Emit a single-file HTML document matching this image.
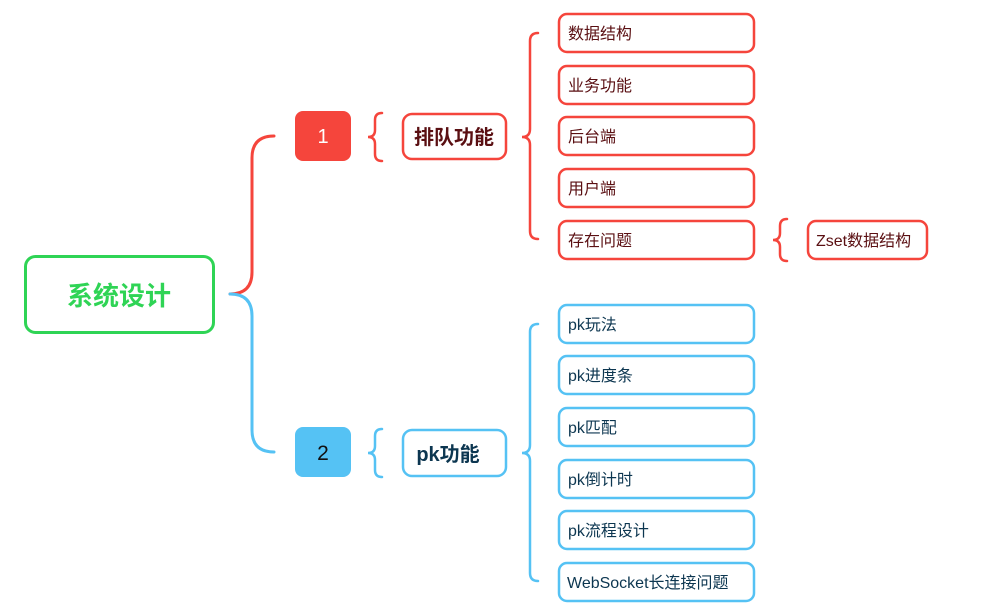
<!DOCTYPE html>
<html><head><meta charset="utf-8"><style>
html,body{margin:0;padding:0;background:#fff;width:997px;height:613px;overflow:hidden}
svg{display:block}
text{font-family:"Liberation Sans","Noto Sans CJK SC",sans-serif}
</style></head><body>
<svg width="997" height="613" viewBox="0 0 997 613" xmlns="http://www.w3.org/2000/svg">
<g fill="none" stroke-width="3" stroke-linecap="round">
<!-- root connectors -->
<path d="M230 294 Q252 294 252 272 L252 158 Q252 136 274 136" stroke="#f5453c"/>
<path d="M230 294 Q252 294 252 316 L252 430 Q252 452 274 452" stroke="#55c2f4"/>
<!-- small braces -->
<path d="M382 113 Q375 113 375 120 L375 130 Q375 137 368 137 Q375 137 375 144 L375 154 Q375 161 382 161" stroke="#f5453c" stroke-width="2.5"/>
<path d="M382 429 Q375 429 375 436 L375 446 Q375 453 368 453 Q375 453 375 460 L375 470 Q375 477 382 477" stroke="#55c2f4" stroke-width="2.5"/>
<!-- big red brace -->
<path d="M538 33 Q530 33 530 41 L530 129 Q530 137 522 137 Q530 137 530 145 L530 231 Q530 239 538 239" stroke="#f5453c" stroke-width="2.5"/>
<!-- big blue brace -->
<path d="M538 324 Q530 324 530 332 L530 445 Q530 453 522 453 Q530 453 530 461 L530 573 Q530 581 538 581" stroke="#55c2f4" stroke-width="2.5"/>
<!-- zset brace -->
<path d="M787 219 Q780 219 780 226 L780 233 Q780 240 773 240 Q780 240 780 247 L780 254 Q780 261 787 261" stroke="#f5453c" stroke-width="2.5"/>
</g>
<!-- root -->
<rect x="25.5" y="256.5" width="188" height="76" rx="10" fill="#fff" stroke="#2fd455" stroke-width="3"/>
<text x="119" y="305" text-anchor="middle" font-size="26" font-weight="bold" fill="#2fd455">系统设计</text>
<!-- numbered -->
<rect x="295" y="111" width="56" height="50" rx="8" fill="#f5453c"/>
<text x="323" y="143" text-anchor="middle" font-size="20" fill="#fff">1</text>
<rect x="295" y="427" width="56" height="50" rx="8" fill="#55c2f4"/>
<text x="323" y="460" text-anchor="middle" font-size="21" fill="#111">2</text>
<!-- level 2 -->
<rect x="403" y="114" width="103" height="45" rx="9" fill="#fff" stroke="#f5453c" stroke-width="2.5"/>
<text x="454" y="144" text-anchor="middle" font-size="20" font-weight="bold" fill="#5a0f12">排队功能</text>
<rect x="403" y="430" width="103" height="46" rx="9" fill="#fff" stroke="#55c2f4" stroke-width="2.5"/>
<text x="448" y="461" text-anchor="middle" font-size="20" font-weight="bold" fill="#0c3650">pk功能</text>
<!-- red leaves -->
<g fill="#fff" stroke="#f5453c" stroke-width="2.5">
<rect x="559" y="14" width="195" height="38" rx="8"/>
<rect x="559" y="66" width="195" height="38" rx="8"/>
<rect x="559" y="117" width="195" height="38" rx="8"/>
<rect x="559" y="169" width="195" height="38" rx="8"/>
<rect x="559" y="221" width="195" height="38" rx="8"/>
<rect x="808" y="221" width="119" height="38" rx="8"/>
</g>
<g font-size="16" fill="#5a0f12">
<text x="568" y="39">数据结构</text>
<text x="568" y="91">业务功能</text>
<text x="568" y="142">后台端</text>
<text x="568" y="194">用户端</text>
<text x="568" y="246">存在问题</text>
<text x="816" y="246">Zset数据结构</text>
</g>
<!-- blue leaves -->
<g fill="#fff" stroke="#55c2f4" stroke-width="2.5">
<rect x="559" y="305" width="195" height="38" rx="8"/>
<rect x="559" y="356" width="195" height="38" rx="8"/>
<rect x="559" y="408" width="195" height="38" rx="8"/>
<rect x="559" y="460" width="195" height="38" rx="8"/>
<rect x="559" y="511" width="195" height="38" rx="8"/>
<rect x="559" y="563" width="195" height="38" rx="8"/>
</g>
<g font-size="16" fill="#0c3650">
<text x="568" y="330">pk玩法</text>
<text x="568" y="381">pk进度条</text>
<text x="568" y="433">pk匹配</text>
<text x="568" y="485">pk倒计时</text>
<text x="568" y="536">pk流程设计</text>
<text x="567" y="588">WebSocket长连接问题</text>
</g>
</svg>
</body></html>
